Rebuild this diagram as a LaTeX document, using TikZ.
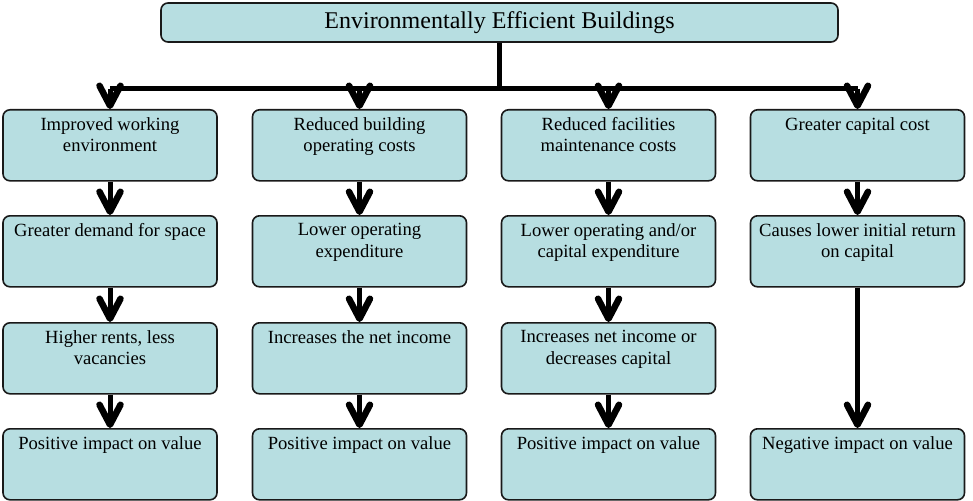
\documentclass[tikz,border=0pt]{standalone}
\usepackage{fontspec}
\setmainfont{Liberation Serif}
\usetikzlibrary{arrows.meta}
\definecolor{boxfill}{HTML}{B7DEE1}
\newcommand\boxtxt[1]{\parbox[c][71pt][t]{208pt}{\centering\fontsize{18.6}{21.5}\selectfont\vspace*{7.5pt}#1}}
\begin{document}
\begin{tikzpicture}[x=1pt,y=-1pt,
  bx/.style={draw=black!90, line width=1.6pt, fill=boxfill, rounded corners=7pt,
    minimum width=214pt, minimum height=71pt, inner sep=0pt, anchor=north},
  ttl/.style={draw=black!90, line width=1.6pt, fill=boxfill, rounded corners=7pt,
    minimum width=677pt, minimum height=39pt, inner sep=0pt,
    font=\fontsize{24}{28}\selectfont},
  busline/.style={line width=5pt},
  conn/.style={line width=5pt, -{Straight Barb[length=20pt,width=21pt,line width=6.5pt,round]}}]
\useasboundingbox (0,0) rectangle (973,500);

\node[ttl] (top) at (499.5,22.5) {Environmentally Efficient Buildings};

% column 1
\node[bx] (a1) at (110,109) {\boxtxt{Improved working\\environment}};
\node[bx] (a2) at (110,215) {\boxtxt{Greater demand for space}};
\node[bx] (a3) at (110,322) {\boxtxt{Higher rents, less\\vacancies}};
\node[bx] (a4) at (110,428) {\boxtxt{Positive impact on value}};
% column 2
\node[bx] (b1) at (359.5,109) {\boxtxt{Reduced building\\operating costs}};
\node[bx] (b2) at (359.5,215) {\boxtxt{Lower operating\\expenditure}};
\node[bx] (b3) at (359.5,322) {\boxtxt{Increases the net income}};
\node[bx] (b4) at (359.5,428) {\boxtxt{Positive impact on value}};
% column 3
\node[bx] (c1) at (608.5,109) {\boxtxt{Reduced facilities\\maintenance costs}};
\node[bx] (c2) at (608.5,215) {\boxtxt{Lower operating and/or\\capital expenditure}};
\node[bx] (c3) at (608.5,322) {\boxtxt{Increases net income or\\decreases capital}};
\node[bx] (c4) at (608.5,428) {\boxtxt{Positive impact on value}};
% column 4
\node[bx] (d1) at (857.5,109) {\boxtxt{Greater capital cost}};
\node[bx] (d2) at (857.5,215) {\boxtxt{Causes lower initial return\\on capital}};
\node[bx] (d4) at (857.5,428) {\boxtxt{Negative impact on value}};

% bus
\coordinate (j1) at (110,89);
\coordinate (j2) at (359.5,89);
\coordinate (j3) at (608.5,89);
\coordinate (j4) at (857.5,89);
\draw[busline] (top.south) -- (top.south |- j1);
\draw[busline] (j1) -- (j4);
\draw[conn] (j1) -- (a1.north);
\draw[conn] (j2) -- (b1.north);
\draw[conn] (j3) -- (c1.north);
\draw[conn] (j4) -- (d1.north);

\draw[conn] (a1) -- (a2);
\draw[conn] (a2) -- (a3);
\draw[conn] (a3) -- (a4);
\draw[conn] (b1) -- (b2);
\draw[conn] (b2) -- (b3);
\draw[conn] (b3) -- (b4);
\draw[conn] (c1) -- (c2);
\draw[conn] (c2) -- (c3);
\draw[conn] (c3) -- (c4);
\draw[conn] (d1) -- (d2);
\draw[conn] (d2) -- (d4);
\end{tikzpicture}
\end{document}
